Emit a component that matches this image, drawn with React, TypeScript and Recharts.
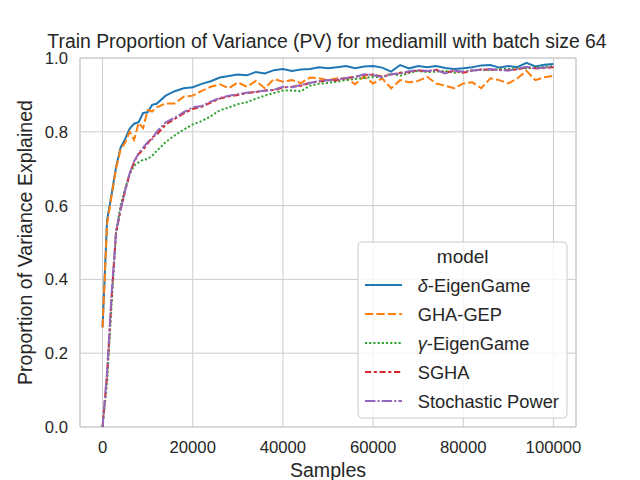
import { LineChart, Line, XAxis, YAxis, CartesianGrid, ReferenceArea, Customized } from "recharts";

const FONT = "'Liberation Sans', Arial, sans-serif";
const TEXT = "#262626";
const GRID = "#cccccc";

// samples seen by each model
const samples = [
  0, 1000, 2000, 3000, 4000, 5000, 6000, 7000, 8000, 9000, 10000, 11000, 12000,
  14000, 16000, 18000, 20000, 22000, 24000, 26000, 28000, 30000, 32000, 34000, 36000,
  38000, 40000, 42000, 44000, 46000, 48000, 50000, 52000, 54000, 56000, 58000, 60000,
  62000, 64000, 66000, 68000, 70000, 72000, 74000, 76000, 78000, 80000, 82000, 84000,
  86000, 88000, 90000, 92000, 94000, 96000, 98000, 100000,
];

const deltaEigenGame = [
  0.27, 0.56, 0.63, 0.705, 0.757, 0.78, 0.808, 0.822, 0.826, 0.851, 0.853, 0.873, 0.876,
  0.898, 0.91, 0.918, 0.921, 0.93, 0.937, 0.947, 0.951, 0.955, 0.953, 0.962, 0.958,
  0.967, 0.97, 0.965, 0.969, 0.97, 0.975, 0.972, 0.975, 0.978, 0.972, 0.977, 0.978,
  0.974, 0.963, 0.981, 0.972, 0.978, 0.975, 0.978, 0.973, 0.97, 0.972, 0.975, 0.98,
  0.981, 0.974, 0.978, 0.975, 0.987, 0.977, 0.982, 0.984,
];

const ghaGep = [
  0.27, 0.55, 0.625, 0.70, 0.752, 0.77, 0.80, 0.778, 0.824, 0.81, 0.859, 0.855, 0.866,
  0.877, 0.877, 0.895, 0.898, 0.911, 0.922, 0.929, 0.918, 0.934, 0.922, 0.938, 0.918,
  0.943, 0.936, 0.94, 0.932, 0.947, 0.945, 0.94, 0.945, 0.945, 0.929, 0.95, 0.931,
  0.945, 0.918, 0.94, 0.934, 0.938, 0.949, 0.931, 0.925, 0.918, 0.931, 0.934, 0.918,
  0.945, 0.94, 0.931, 0.945, 0.965, 0.94, 0.948, 0.952,
];

const gammaEigenGame = [
  0, 0.12, 0.33, 0.53, 0.60, 0.645, 0.685, 0.708, 0.717, 0.724, 0.726, 0.735, 0.748,
  0.772, 0.79, 0.806, 0.82, 0.829, 0.842, 0.858, 0.866, 0.875, 0.88, 0.89, 0.898,
  0.905, 0.912, 0.912, 0.91, 0.925, 0.93, 0.933, 0.936, 0.94, 0.943, 0.946, 0.949,
  0.948, 0.958, 0.952, 0.96, 0.965, 0.962, 0.963, 0.965, 0.96, 0.963, 0.966, 0.968,
  0.967, 0.97, 0.97, 0.972, 0.972, 0.974, 0.976, 0.978,
];

const sgha = [
  0, 0.14, 0.35, 0.525, 0.588, 0.64, 0.685, 0.718, 0.74, 0.752, 0.768, 0.785, 0.792,
  0.82, 0.835, 0.85, 0.862, 0.868, 0.879, 0.89, 0.896, 0.9, 0.905, 0.908, 0.912,
  0.913, 0.92, 0.922, 0.925, 0.933, 0.936, 0.94, 0.94, 0.945, 0.949, 0.954, 0.955,
  0.95, 0.955, 0.96, 0.962, 0.966, 0.964, 0.968, 0.96, 0.965, 0.96, 0.966, 0.969,
  0.968, 0.968, 0.967, 0.969, 0.975, 0.972, 0.973, 0.975,
];

const stochasticPower = [
  0, 0.15, 0.36, 0.53, 0.59, 0.64, 0.687, 0.72, 0.742, 0.757, 0.772, 0.78, 0.80,
  0.826, 0.838, 0.853, 0.866, 0.87, 0.882, 0.892, 0.898, 0.902, 0.906, 0.909, 0.911,
  0.914, 0.922, 0.921, 0.927, 0.932, 0.938, 0.94, 0.942, 0.946, 0.948, 0.956, 0.954,
  0.948, 0.956, 0.958, 0.964, 0.967, 0.965, 0.967, 0.958, 0.966, 0.963, 0.966, 0.968,
  0.97, 0.967, 0.966, 0.97, 0.976, 0.971, 0.974, 0.976,
];

const xTicks = [0, 20000, 40000, 60000, 80000, 100000];
const yTicks = [0, 0.2, 0.4, 0.6, 0.8, 1.0];

// greek prefix is drawn in italics like matplotlib mathtext
const series = [
  { key: "delta", greek: "δ", label: "-EigenGame", color: "#1f77b4", dash: undefined, values: deltaEigenGame },
  { key: "gha", greek: "", label: "GHA-GEP", color: "#ff7f0e", dash: "8.3 3.1", values: ghaGep },
  { key: "gamma", greek: "γ", label: "-EigenGame", color: "#2ca02c", dash: "2.1 2.1", values: gammaEigenGame },
  { key: "sgha", greek: "", label: "SGHA", color: "#d62728", dash: "6.2 2.6 3.1 2.6", values: sgha },
  { key: "sp", greek: "", label: "Stochastic Power", color: "#9467bd", dash: "10.4 2.1 2.1 2.1", values: stochasticPower },
];

const data = samples.map((s, i) => {
  const row: Record<string, number> = { samples: s };
  series.forEach((sr) => (row[sr.key] = sr.values[i]));
  return row;
});

function Texts() {
  return (
    <g fontFamily={FONT} fill={TEXT}>
      <text x={327} y={47.5} fontSize={19.4} textAnchor="middle">
        Train Proportion of Variance (PV) for mediamill with batch size 64
      </text>
      <text x={328} y={477} fontSize={19.6} textAnchor="middle">
        Samples
      </text>
      <text x={31.7} y={242.5} fontSize={19.6} textAnchor="middle" transform="rotate(-90, 31.7, 242.5)">
        Proportion of Variance Explained
      </text>
    </g>
  );
}

function LegendBox() {
  const x = 358;
  const y = 242;
  return (
    <g fontFamily={FONT} fill={TEXT}>
      <rect x={x} y={y} width={209} height={176} rx={4} fill="#ffffff" fillOpacity={0.8} stroke={GRID} />
      <text x={462.7} y={263.3} fontSize={19} textAnchor="middle">
        model
      </text>
      {series.map((sr, i) => {
        const cy = 285 + i * 29;
        return (
          <g key={sr.key}>
            <line x1={365} x2={402} y1={cy} y2={cy} stroke={sr.color} strokeWidth={2} strokeDasharray={sr.dash} />
            <text x={417.7} y={cy + 7} fontSize={18.3}>
              {sr.greek && <tspan fontStyle="italic">{sr.greek}</tspan>}
              {sr.label}
            </text>
          </g>
        );
      })}
    </g>
  );
}

export default function App() {
  return (
    <div style={{ position: "absolute", left: 0, top: 0, width: 640, height: 480, background: "#fff" }}>
      <LineChart width={640} height={480} data={data} margin={{ top: 58, right: 64, bottom: 23, left: 40 }}>
        <CartesianGrid stroke={GRID} strokeWidth={1} />
        <ReferenceArea x1={-5000} x2={105000} y1={0} y2={1} fill="none" stroke={GRID} strokeWidth={1} ifOverflow="visible" />
        <XAxis
          dataKey="samples"
          type="number"
          domain={[-5000, 105000]}
          ticks={xTicks}
          allowDataOverflow
          height={30}
          axisLine={false}
          tickLine={false}
          tickSize={0}
          tickMargin={14}
          tick={{ fill: TEXT, fontSize: 16.7, fontFamily: FONT }}
        />
        <YAxis
          type="number"
          domain={[0, 1]}
          ticks={yTicks}
          width={40}
          axisLine={false}
          tickLine={false}
          tickSize={0}
          tickMargin={12}
          tickFormatter={(v: number) => v.toFixed(1)}
          tick={{ fill: TEXT, fontSize: 16.7, fontFamily: FONT }}
        />
        {series.map((sr) => (
          <Line
            key={sr.key}
            dataKey={sr.key}
            type="linear"
            stroke={sr.color}
            strokeWidth={2}
            strokeDasharray={sr.dash}
            dot={false}
            activeDot={false}
            isAnimationActive={false}
          />
        ))}
        <Customized component={<Texts />} />
        <Customized component={<LegendBox />} />
      </LineChart>
    </div>
  );
}
